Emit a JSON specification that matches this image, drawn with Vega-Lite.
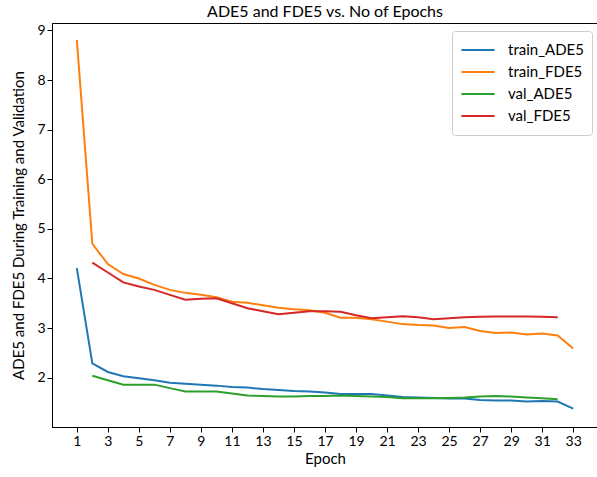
{
  "$schema": "https://vega.github.io/schema/vega-lite/v6.json",
  "autosize": "none",
  "padding": {"left": 52, "top": 23, "right": 0, "bottom": 50},
  "width": 546,
  "height": 404,
  "background": "white",
  "title": {"text": "ADE5 and FDE5 vs. No of Epochs", "font": "Lato", "fontSize": 16, "fontWeight": "normal", "color": "black", "offset": 3, "anchor": "middle"},
  "config": {
    "view": {"stroke": "black", "strokeWidth": 1},
    "axis": {"grid": false, "domainColor": "black", "tickColor": "black", "labelColor": "black", "titleColor": "black", "labelFont": "Lato", "titleFont": "Lato", "labelFontSize": 14, "titleFontSize": 15, "titleFontWeight": "normal", "tickSize": 5}
  },
  "datasets": {
    "d": [
      {"epoch":1,"series":"train_ADE5","value":4.21},{"epoch":2,"series":"train_ADE5","value":2.29},{"epoch":3,"series":"train_ADE5","value":2.115},{"epoch":4,"series":"train_ADE5","value":2.03},{"epoch":5,"series":"train_ADE5","value":1.99},{"epoch":6,"series":"train_ADE5","value":1.95},{"epoch":7,"series":"train_ADE5","value":1.9},{"epoch":8,"series":"train_ADE5","value":1.88},{"epoch":9,"series":"train_ADE5","value":1.86},{"epoch":10,"series":"train_ADE5","value":1.84},{"epoch":11,"series":"train_ADE5","value":1.81},{"epoch":12,"series":"train_ADE5","value":1.8},{"epoch":13,"series":"train_ADE5","value":1.77},{"epoch":14,"series":"train_ADE5","value":1.75},{"epoch":15,"series":"train_ADE5","value":1.73},{"epoch":16,"series":"train_ADE5","value":1.72},{"epoch":17,"series":"train_ADE5","value":1.7},{"epoch":18,"series":"train_ADE5","value":1.67},{"epoch":19,"series":"train_ADE5","value":1.67},{"epoch":20,"series":"train_ADE5","value":1.67},{"epoch":21,"series":"train_ADE5","value":1.64},{"epoch":22,"series":"train_ADE5","value":1.61},{"epoch":23,"series":"train_ADE5","value":1.6},{"epoch":24,"series":"train_ADE5","value":1.59},{"epoch":25,"series":"train_ADE5","value":1.58},{"epoch":26,"series":"train_ADE5","value":1.58},{"epoch":27,"series":"train_ADE5","value":1.55},{"epoch":28,"series":"train_ADE5","value":1.54},{"epoch":29,"series":"train_ADE5","value":1.54},{"epoch":30,"series":"train_ADE5","value":1.52},{"epoch":31,"series":"train_ADE5","value":1.53},{"epoch":32,"series":"train_ADE5","value":1.52},{"epoch":33,"series":"train_ADE5","value":1.375},
      {"epoch":1,"series":"train_FDE5","value":8.81},{"epoch":2,"series":"train_FDE5","value":4.7},{"epoch":3,"series":"train_FDE5","value":4.29},{"epoch":4,"series":"train_FDE5","value":4.09},{"epoch":5,"series":"train_FDE5","value":4.0},{"epoch":6,"series":"train_FDE5","value":3.87},{"epoch":7,"series":"train_FDE5","value":3.77},{"epoch":8,"series":"train_FDE5","value":3.71},{"epoch":9,"series":"train_FDE5","value":3.67},{"epoch":10,"series":"train_FDE5","value":3.62},{"epoch":11,"series":"train_FDE5","value":3.53},{"epoch":12,"series":"train_FDE5","value":3.51},{"epoch":13,"series":"train_FDE5","value":3.46},{"epoch":14,"series":"train_FDE5","value":3.41},{"epoch":15,"series":"train_FDE5","value":3.38},{"epoch":16,"series":"train_FDE5","value":3.36},{"epoch":17,"series":"train_FDE5","value":3.31},{"epoch":18,"series":"train_FDE5","value":3.21},{"epoch":19,"series":"train_FDE5","value":3.21},{"epoch":20,"series":"train_FDE5","value":3.18},{"epoch":21,"series":"train_FDE5","value":3.13},{"epoch":22,"series":"train_FDE5","value":3.08},{"epoch":23,"series":"train_FDE5","value":3.06},{"epoch":24,"series":"train_FDE5","value":3.05},{"epoch":25,"series":"train_FDE5","value":3.0},{"epoch":26,"series":"train_FDE5","value":3.02},{"epoch":27,"series":"train_FDE5","value":2.94},{"epoch":28,"series":"train_FDE5","value":2.9},{"epoch":29,"series":"train_FDE5","value":2.91},{"epoch":30,"series":"train_FDE5","value":2.87},{"epoch":31,"series":"train_FDE5","value":2.89},{"epoch":32,"series":"train_FDE5","value":2.85},{"epoch":33,"series":"train_FDE5","value":2.59},
      {"epoch":2,"series":"val_ADE5","value":2.04},{"epoch":3,"series":"val_ADE5","value":1.95},{"epoch":4,"series":"val_ADE5","value":1.86},{"epoch":5,"series":"val_ADE5","value":1.86},{"epoch":6,"series":"val_ADE5","value":1.86},{"epoch":7,"series":"val_ADE5","value":1.79},{"epoch":8,"series":"val_ADE5","value":1.72},{"epoch":9,"series":"val_ADE5","value":1.72},{"epoch":10,"series":"val_ADE5","value":1.72},{"epoch":11,"series":"val_ADE5","value":1.68},{"epoch":12,"series":"val_ADE5","value":1.64},{"epoch":13,"series":"val_ADE5","value":1.63},{"epoch":14,"series":"val_ADE5","value":1.62},{"epoch":15,"series":"val_ADE5","value":1.62},{"epoch":16,"series":"val_ADE5","value":1.63},{"epoch":17,"series":"val_ADE5","value":1.63},{"epoch":18,"series":"val_ADE5","value":1.64},{"epoch":19,"series":"val_ADE5","value":1.63},{"epoch":20,"series":"val_ADE5","value":1.62},{"epoch":21,"series":"val_ADE5","value":1.61},{"epoch":22,"series":"val_ADE5","value":1.585},{"epoch":23,"series":"val_ADE5","value":1.585},{"epoch":24,"series":"val_ADE5","value":1.585},{"epoch":25,"series":"val_ADE5","value":1.59},{"epoch":26,"series":"val_ADE5","value":1.6},{"epoch":27,"series":"val_ADE5","value":1.62},{"epoch":28,"series":"val_ADE5","value":1.63},{"epoch":29,"series":"val_ADE5","value":1.62},{"epoch":30,"series":"val_ADE5","value":1.6},{"epoch":31,"series":"val_ADE5","value":1.585},{"epoch":32,"series":"val_ADE5","value":1.565},
      {"epoch":2,"series":"val_FDE5","value":4.32},{"epoch":3,"series":"val_FDE5","value":4.12},{"epoch":4,"series":"val_FDE5","value":3.92},{"epoch":5,"series":"val_FDE5","value":3.84},{"epoch":6,"series":"val_FDE5","value":3.77},{"epoch":7,"series":"val_FDE5","value":3.67},{"epoch":8,"series":"val_FDE5","value":3.57},{"epoch":9,"series":"val_FDE5","value":3.59},{"epoch":10,"series":"val_FDE5","value":3.6},{"epoch":11,"series":"val_FDE5","value":3.5},{"epoch":12,"series":"val_FDE5","value":3.4},{"epoch":13,"series":"val_FDE5","value":3.34},{"epoch":14,"series":"val_FDE5","value":3.28},{"epoch":15,"series":"val_FDE5","value":3.31},{"epoch":16,"series":"val_FDE5","value":3.34},{"epoch":17,"series":"val_FDE5","value":3.34},{"epoch":18,"series":"val_FDE5","value":3.33},{"epoch":19,"series":"val_FDE5","value":3.26},{"epoch":20,"series":"val_FDE5","value":3.2},{"epoch":21,"series":"val_FDE5","value":3.22},{"epoch":22,"series":"val_FDE5","value":3.24},{"epoch":23,"series":"val_FDE5","value":3.22},{"epoch":24,"series":"val_FDE5","value":3.18},{"epoch":25,"series":"val_FDE5","value":3.2},{"epoch":26,"series":"val_FDE5","value":3.22},{"epoch":27,"series":"val_FDE5","value":3.23},{"epoch":28,"series":"val_FDE5","value":3.235},{"epoch":29,"series":"val_FDE5","value":3.235},{"epoch":30,"series":"val_FDE5","value":3.235},{"epoch":31,"series":"val_FDE5","value":3.23},{"epoch":32,"series":"val_FDE5","value":3.22}
    ]
  },
  "data": {"name": "d"},
  "mark": {"type": "line", "strokeWidth": 2, "clip": true},
  "encoding": {
    "x": {"field": "epoch", "type": "quantitative", "scale": {"domain": [-0.6, 34.6], "nice": false, "zero": false}, "axis": {"title": "Epoch", "values": [1,3,5,7,9,11,13,15,17,19,21,23,25,27,29,31,33], "labelFlush": false, "titlePadding": 3}},
    "y": {"field": "value", "type": "quantitative", "scale": {"domain": [1.006, 9.15], "nice": false, "zero": false}, "axis": {"title": "ADE5 and FDE5 During Training and Validation", "values": [2,3,4,5,6,7,8,9], "labelFlush": false, "titlePadding": 10}},
    "color": {"field": "series", "type": "nominal", "scale": {"domain": ["train_ADE5","train_FDE5","val_ADE5","val_FDE5"], "range": ["#1f77b4","#ff7f0e","#2ca02c","#d62728"]},
      "legend": {"title": null, "orient": "none", "legendX": 400, "legendY": 8, "symbolType": "stroke", "symbolSize": 1100, "symbolStrokeWidth": 2, "clipHeight": 22, "labelFont": "Lato", "labelFontSize": 15, "labelColor": "black", "rowPadding": 0, "padding": 8, "strokeColor": "#cccccc", "fillColor": "white", "cornerRadius": 3, "labelOffset": 12}}
  }
}
